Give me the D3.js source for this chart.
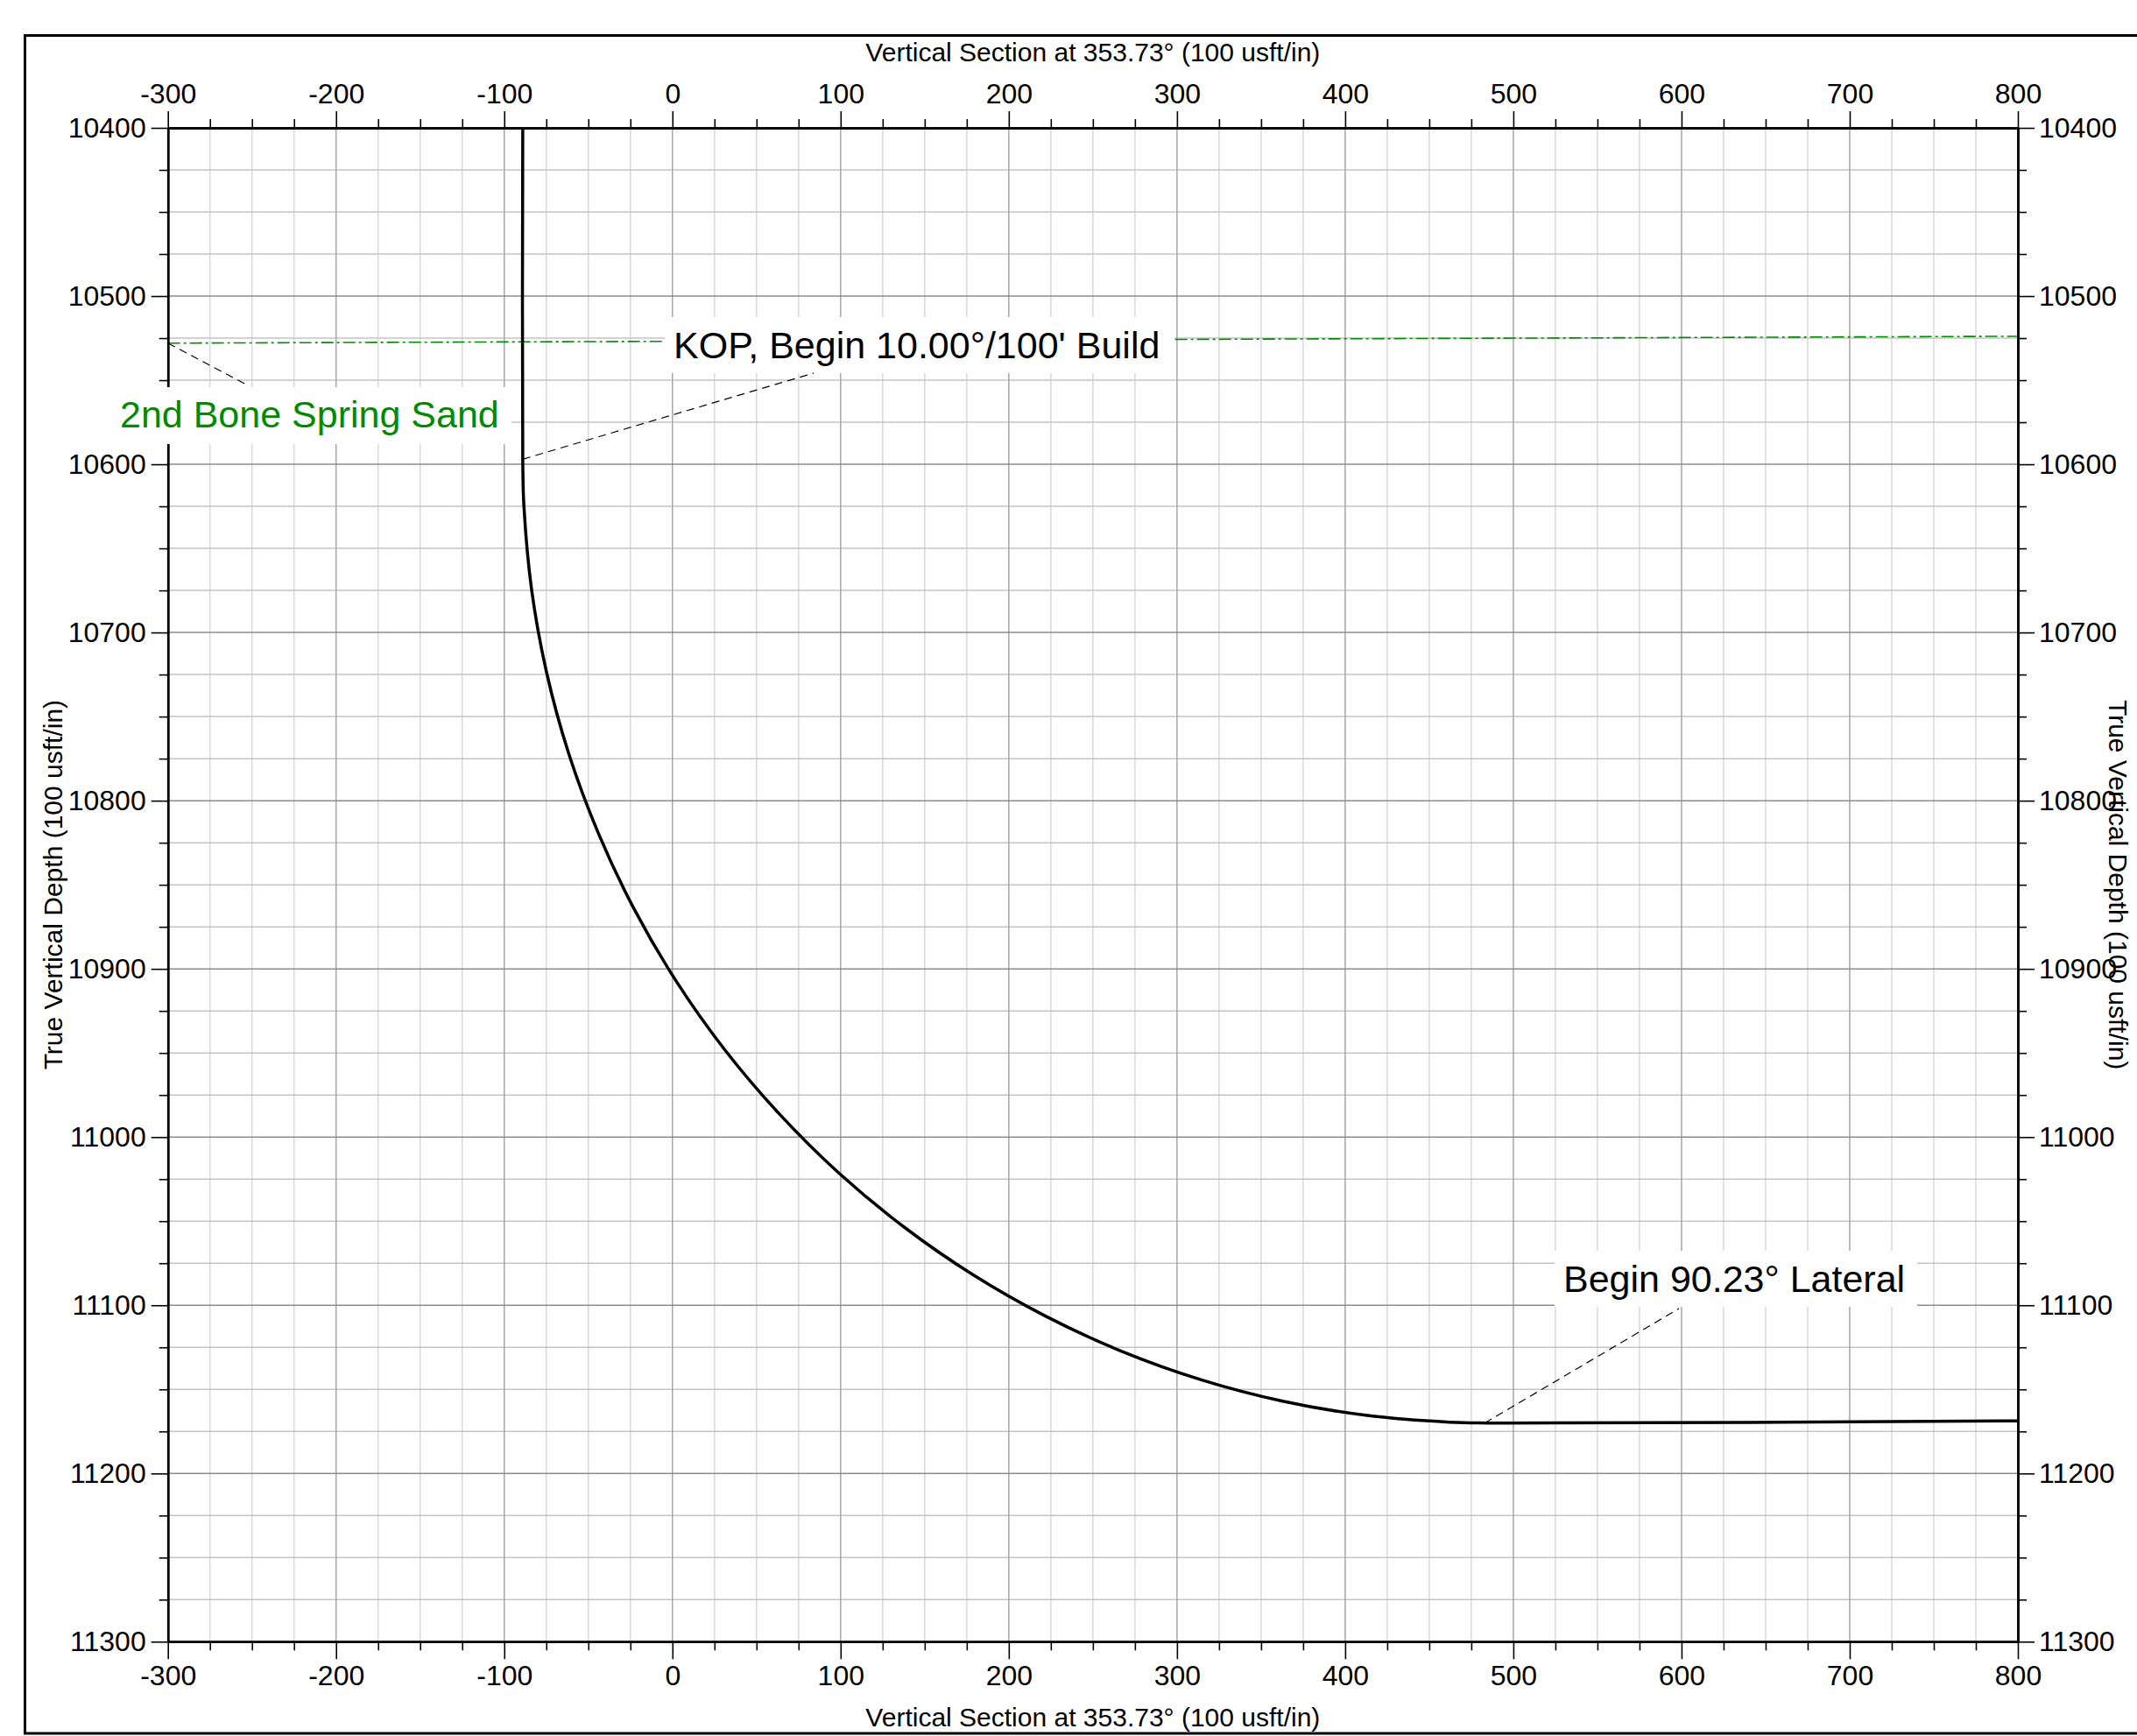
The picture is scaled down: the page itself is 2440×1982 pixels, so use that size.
<!DOCTYPE html>
<html><head><meta charset="utf-8">
<script src="https://cdn.jsdelivr.net/npm/d3@7"></script>
<style>
body{margin:0;background:#fff}
svg{display:block}
text{font-family:"Liberation Sans",Arial,Helvetica,sans-serif}
</style>
</head><body>
<svg id="chart" width="2440" height="1982"></svg>
<script>
// ---------------- data ----------------
const xDomain = [-300, 800];
const yDomain = [10400, 11300];
const xMajorTicks = [-300, -200, -100, 0, 100, 200, 300, 400, 500, 600, 700, 800];
const yMajorTicks = [10400, 10500, 10600, 10700, 10800, 10900, 11000, 11100, 11200, 11300];
const minorStep = 25;
const xAxisTitle = "Vertical Section at 353.73° (100 usft/in)";
const yAxisTitle = "True Vertical Depth (100 usft/in)";

// well path (vertical section, TVD)
const wellVS  = [-89.0, -89.0, -88.3, -83.7, -74.8, -61.6, -44.2, -22.9, 2.3, 31.2, 63.6, 99.1, 137.6, 178.6, 222.1, 267.5, 314.5, 362.9, 412.2, 462.0, 485.5, 800.0];
const wellTVD = [10400.0, 10597.0, 10625.0, 10674.8, 10723.9, 10772.2, 10819.0, 10864.2, 10907.4, 10948.2, 10986.3, 11021.5, 11053.4, 11081.8, 11106.6, 11127.5, 11144.3, 11157.0, 11165.4, 11169.5, 11170.0, 11168.7];

// formation top
const formationName = "2nd Bone Spring Sand";
const formationVS  = [-300, 800];
const formationTVD = [10528.0, 10523.9];

// annotations (anchor point on the plot)
const annoText = ["KOP, Begin 10.00°/100' Build", "Begin 90.23° Lateral"];
const annoVS   = [-89.0, 483.0];
const annoTVD  = [10597.0, 11170.0];

// ---------------- layout ----------------
const W = 2440, H = 1982;
const plot = {l: 191.7, r: 2304, t: 146, b: 1874.3};
const svg = d3.select("#chart");
const x = d3.scaleLinear().domain(xDomain).range([plot.l, plot.r]);
const y = d3.scaleLinear().domain(yDomain).range([plot.t, plot.b]);

const xMinor = d3.range(xDomain[0], xDomain[1] + 0.1, minorStep).filter(v => !xMajorTicks.includes(v));
const yMinor = d3.range(yDomain[0], yDomain[1] + 0.1, minorStep).filter(v => !yMajorTicks.includes(v));

svg.append("rect").attr("width", W).attr("height", H).attr("fill", "#fff");
// outer frame
svg.append("rect").attr("x", 28.5).attr("y", 40.5).attr("width", 2480).attr("height", 1938.5)
  .attr("fill", "none").attr("stroke", "#000").attr("stroke-width", 3);

svg.append("defs").append("clipPath").attr("id", "clip").append("rect")
  .attr("x", plot.l).attr("y", plot.t).attr("width", plot.r - plot.l).attr("height", plot.b - plot.t);

// grid
const grid = svg.append("g");
grid.selectAll(".vmin").data(xMinor).join("line")
  .attr("x1", d => x(d)).attr("x2", d => x(d)).attr("y1", plot.t).attr("y2", plot.b)
  .attr("stroke", "#d9d9d9").attr("stroke-width", 1.5);
grid.selectAll(".hmin").data(yMinor).join("line")
  .attr("y1", d => y(d)).attr("y2", d => y(d)).attr("x1", plot.l).attr("x2", plot.r)
  .attr("stroke", "#c4c4c4").attr("stroke-width", 1.5);
grid.selectAll(".vmaj").data(xMajorTicks).join("line")
  .attr("x1", d => x(d)).attr("x2", d => x(d)).attr("y1", plot.t).attr("y2", plot.b)
  .attr("stroke", "#a6a6a6").attr("stroke-width", 1.5);
grid.selectAll(".hmaj").data(yMajorTicks).join("line")
  .attr("y1", d => y(d)).attr("y2", d => y(d)).attr("x1", plot.l).attr("x2", plot.r)
  .attr("stroke", "#8c8c8c").attr("stroke-width", 1.5);

// formation line
const lineGen = d3.line().x(d => x(d[0])).y(d => y(d[1]));
svg.append("path").attr("clip-path", "url(#clip)")
  .datum(formationVS.map((v, i) => [v, formationTVD[i]]))
  .attr("d", lineGen).attr("fill", "none").attr("stroke", "#008a00").attr("stroke-width", 1.6)
  .attr("stroke-dasharray", "14,4,3,4");

// well path
const wellGen = d3.line().x(d => x(d[0])).y(d => y(d[1])).curve(d3.curveCatmullRom.alpha(0.5));
svg.append("path").attr("clip-path", "url(#clip)")
  .datum(wellVS.map((v, i) => [v, wellTVD[i]]))
  .attr("d", wellGen).attr("fill", "none").attr("stroke", "#000").attr("stroke-width", 3.5)
  .attr("stroke-linejoin", "round");

// axes
const fs = 32;
const fmt = d => String(d);
const ax = svg.append("g");
ax.append("g").attr("transform", `translate(0,${plot.t})`)
  .call(d3.axisTop(x).tickValues(xMajorTicks).tickSize(19).tickSizeOuter(0).tickPadding(9).tickFormat(fmt));
ax.append("g").attr("transform", `translate(0,${plot.t})`)
  .call(d3.axisTop(x).tickValues(xMinor).tickSize(10).tickSizeOuter(0).tickFormat(""));
ax.append("g").attr("transform", `translate(0,${plot.b})`)
  .call(d3.axisBottom(x).tickValues(xMajorTicks).tickSize(20).tickSizeOuter(0).tickPadding(7).tickFormat(fmt));
ax.append("g").attr("transform", `translate(0,${plot.b})`)
  .call(d3.axisBottom(x).tickValues(xMinor).tickSize(10).tickSizeOuter(0).tickFormat(""));
ax.append("g").attr("transform", `translate(${plot.l},0)`)
  .call(d3.axisLeft(y).tickValues(yMajorTicks).tickSize(19).tickSizeOuter(0).tickPadding(6).tickFormat(fmt));
ax.append("g").attr("transform", `translate(${plot.l},0)`)
  .call(d3.axisLeft(y).tickValues(yMinor).tickSize(10).tickSizeOuter(0).tickFormat(""));
ax.append("g").attr("transform", `translate(${plot.r},0)`)
  .call(d3.axisRight(y).tickValues(yMajorTicks).tickSize(19).tickSizeOuter(0).tickPadding(5).tickFormat(fmt));
ax.append("g").attr("transform", `translate(${plot.r},0)`)
  .call(d3.axisRight(y).tickValues(yMinor).tickSize(10).tickSizeOuter(0).tickFormat(""));

ax.selectAll(".domain").attr("stroke", "#000").attr("stroke-width", 2.5);
ax.selectAll(".tick line").attr("stroke", "#000").attr("stroke-width", 1.6);
ax.selectAll(".tick text").attr("fill", "#000").attr("font-size", fs);

// axis titles
const titleFs = 30;
svg.append("text").attr("x", (plot.l + plot.r) / 2).attr("y", 70).attr("text-anchor", "middle")
  .attr("font-size", titleFs).text(xAxisTitle);
svg.append("text").attr("x", (plot.l + plot.r) / 2).attr("y", 1971).attr("text-anchor", "middle")
  .attr("font-size", titleFs).text(xAxisTitle);
svg.append("text").attr("transform", `translate(71,${(plot.t + plot.b) / 2}) rotate(-90)`)
  .attr("text-anchor", "middle").attr("font-size", titleFs).text(yAxisTitle);
svg.append("text").attr("transform", `translate(2408,${(plot.t + plot.b) / 2}) rotate(90)`)
  .attr("text-anchor", "middle").attr("font-size", titleFs).text(yAxisTitle);

// ---------------- annotations ----------------
const labelFs = 43;
const labels = [
  {text: formationName, color: "#008a00", box: [129, 442, 455, 65], tx: 137, ty: 488,
   from: [formationVS[0], formationTVD[0]], to: [283, 440]},
  {text: annoText[0], color: "#000", box: [759, 362, 582, 64], tx: 769, ty: 409,
   from: [annoVS[0], annoTVD[0]], to: [929, 426]},
  {text: annoText[1], color: "#000", box: [1775, 1428, 414, 64], tx: 1785, ty: 1475,
   from: [annoVS[1], annoTVD[1]], to: [1917, 1494]}
];
const ann = svg.append("g");
labels.forEach(l => {
  ann.append("rect").attr("x", l.box[0]).attr("y", l.box[1]).attr("width", l.box[2]).attr("height", l.box[3])
    .attr("fill", "#fff");
});
labels.forEach(l => {
  ann.append("line").attr("x1", x(l.from[0])).attr("y1", y(l.from[1])).attr("x2", l.to[0]).attr("y2", l.to[1])
    .attr("stroke", "#000").attr("stroke-width", 1.2).attr("stroke-dasharray", "9,6");
  ann.append("text").attr("x", l.tx).attr("y", l.ty).attr("font-size", labelFs).attr("fill", l.color).text(l.text);
});
</script>
</body></html>
